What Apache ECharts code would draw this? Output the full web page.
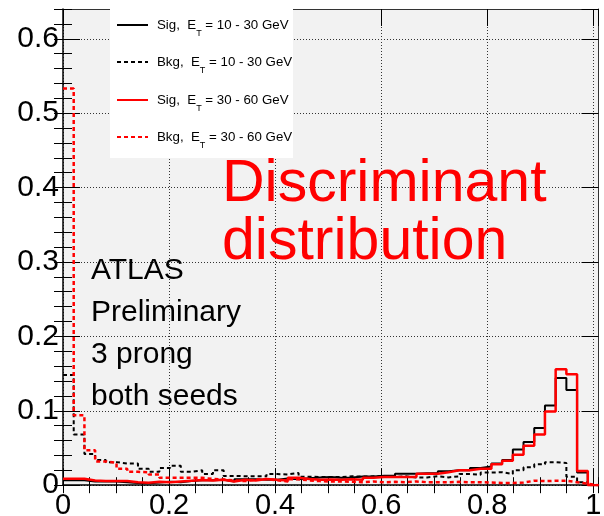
<!DOCTYPE html>
<html>
<head>
<meta charset="utf-8">
<script src="https://cdn.jsdelivr.net/npm/echarts@6/dist/echarts.min.js"></script>
<style>
  html, body { margin: 0; padding: 0; background: #fff; }
  #chart { width: 604px; height: 516px; }
</style>
</head>
<body>
<div id="chart"></div>
<script>
// Histogram binning: 50 equal bins over the discriminant range
const binCount = 50;
const xMin = 0;
const xMax = 1.01;

// Bin contents (normalised) for each sample
const sig1030 = [
  0.0065, 0.0065, 0.005, 0.005, 0.005, 0.004, 0.003, 0.0025, 0.0035, 0.0045,
  0.004, 0.0055, 0.0065, 0.0065, 0.0073, 0.005, 0.008, 0.008, 0.0073, 0.0073,
  0.009, 0.008, 0.0095, 0.0105, 0.011, 0.010, 0.0105, 0.0116, 0.0116, 0.0126,
  0.0126, 0.0153, 0.0153, 0.016, 0.016, 0.0187, 0.020, 0.020, 0.023, 0.025,
  0.029, 0.034, 0.048, 0.058, 0.077, 0.107, 0.144, 0.128, 0.017, 0
];
const bkg1030 = [
  0.148, 0.068, 0.042, 0.034, 0.031, 0.029, 0.029, 0.022, 0.018, 0.023,
  0.026, 0.018, 0.020, 0.015, 0.020, 0.0125, 0.012, 0.012, 0.012, 0.015,
  0.0145, 0.0165, 0.0115, 0.011, 0.011, 0.011, 0.012, 0.0115, 0.012, 0.0125,
  0.011, 0.012, 0.0105, 0.0105, 0.012, 0.0105, 0.012, 0.015, 0.014, 0.017,
  0.0175, 0.015, 0.020, 0.024, 0.028, 0.031, 0.030, 0.0115, 0.004, 0
];
const sig3060 = [
  0.0086, 0.0086, 0.0063, 0.0055, 0.0055, 0.0055, 0.004, 0.0032, 0.0045, 0.004,
  0.005, 0.006, 0.007, 0.0064, 0.0073, 0.005, 0.0073, 0.0064, 0.0083, 0.0073,
  0.0064, 0.010, 0.0083, 0.0073, 0.0075, 0.0073, 0.008, 0.0073, 0.010, 0.011,
  0.011, 0.011, 0.011, 0.0153, 0.0153, 0.0175, 0.020, 0.020, 0.022, 0.022,
  0.028, 0.033, 0.041, 0.053, 0.068, 0.099, 0.156, 0.149, 0.019, 0
];
const bkg3060 = [
  0.533, 0.094, 0.047, 0.032, 0.030, 0.022, 0.018, 0.0175, 0.0145, 0.010,
  0.010, 0.010, 0.010, 0.0083, 0.0075, 0.0065, 0.0055, 0.0075, 0.0083, 0.0065,
  0.005, 0.008, 0.0065, 0.0055, 0.005, 0.005, 0.0045, 0.004, 0.005, 0.004,
  0.0045, 0.004, 0.005, 0.004, 0.004, 0.004, 0.0045, 0.004, 0.004, 0.0035,
  0.003, 0.003, 0.0035, 0.006, 0.0055, 0.006, 0.006, 0.004, 0.002, 0
];

// Legend entries and annotation text
const legendLabels = [
  ['Sig,  E', 'T', ' = 10 - 30 GeV'],
  ['Bkg,  E', 'T', ' = 10 - 30 GeV'],
  ['Sig,  E', 'T', ' = 30 - 60 GeV'],
  ['Bkg,  E', 'T', ' = 30 - 60 GeV']
];
const atlasLines = ['ATLAS', 'Preliminary', '3 prong', 'both seeds'];
const titleLines = ['Discriminant', 'distribution'];

const FONT = 'Liberation Sans, Arial, Helvetica, sans-serif';
const RED = '#ff0000';
const BLACK = '#000000';

// Turn bin contents into step-outline points (left edge of each bin + final right edge)
function histOutline(values) {
  const w = (xMax - xMin) / binCount;
  const pts = values.map((v, i) => [xMin + i * w, v]);
  pts.push([xMin + values.length * w, values[values.length - 1]]);
  return pts;
}

function niceLabel(step) {
  return function (v) {
    const r = v / step;
    if (Math.abs(r - Math.round(r)) > 1e-6) return '';
    return String(Math.round(v * 100) / 100);
  };
}

const chart = echarts.init(document.getElementById('chart'), null, { renderer: 'canvas' });

const gridLine = { show: true, lineStyle: { type: [1, 2], color: '#333', width: 1 } };

function majorX(position, labelled) {
  return {
    type: 'value', min: xMin, max: xMax, interval: 0.2, position: position,
    axisLine: { show: true, onZero: false, lineStyle: { color: labelled ? BLACK : '#333', width: labelled ? 1.5 : 1 } },
    axisTick: { show: true, inside: true, length: 17, lineStyle: { color: BLACK, width: 1 } },
    axisLabel: labelled ? {
      show: true, fontSize: 29, color: BLACK, fontFamily: FONT, margin: 6,
      showMaxLabel: false, formatter: niceLabel(0.2)
    } : { show: false },
    splitLine: labelled ? gridLine : { show: false }
  };
}
function minorX(position) {
  return {
    type: 'value', min: xMin, max: xMax, interval: 0.05, position: position,
    axisLine: { show: false },
    axisTick: { show: true, inside: true, length: 8, lineStyle: { color: BLACK, width: 1 } },
    axisLabel: { show: false }, splitLine: { show: false }
  };
}
function majorY(position, labelled) {
  return {
    type: 'value', min: 0, max: 0.64, interval: 0.1, position: position,
    axisLine: { show: true, onZero: false, lineStyle: { color: labelled ? BLACK : '#333', width: labelled ? 1.5 : 1 } },
    axisTick: { show: true, inside: true, length: 17, lineStyle: { color: BLACK, width: 1 } },
    axisLabel: labelled ? {
      show: true, fontSize: 30, color: BLACK, fontFamily: FONT, margin: 4,
      showMaxLabel: false, formatter: niceLabel(0.1)
    } : { show: false },
    splitLine: labelled ? gridLine : { show: false }
  };
}
function minorY(position) {
  return {
    type: 'value', min: 0, max: 0.64, interval: 0.02, position: position,
    axisLine: { show: false },
    axisTick: { show: true, inside: true, length: 9, lineStyle: { color: BLACK, width: 1 } },
    axisLabel: { show: false }, splitLine: { show: false }
  };
}

function histSeries(name, values, color, dashed, width, z) {
  return {
    name: name, type: 'line', step: 'end', xAxisIndex: 0, yAxisIndex: 0,
    data: histOutline(values), symbol: 'none', animation: false, z: z,
    lineStyle: { color: color, width: width, type: dashed ? [4, 3] : 'solid' }
  };
}

// Legend box drawn as graphics (line sample + label with subscript)
const legendRows = [
  { color: BLACK, dashed: false, y: 25 },
  { color: BLACK, dashed: true, y: 62 },
  { color: RED, dashed: false, y: 100 },
  { color: RED, dashed: true, y: 137 }
];
const graphics = [
  { type: 'rect', shape: { x: 110, y: 9, width: 183, height: 149 }, style: { fill: '#ffffff' }, z: 100 }
];
legendRows.forEach((row, i) => {
  graphics.push({
    type: 'line', z: 101,
    shape: { x1: 117, y1: row.y, x2: 148, y2: row.y },
    style: { stroke: row.color, lineWidth: 2, lineDash: row.dashed ? [4, 3] : null }
  });
  const parts = legendLabels[i];
  graphics.push({
    type: 'text', z: 101, x: 157, y: row.y - 13,
    style: {
      text: '{a|' + parts[0] + '}{s|' + parts[1] + '}{a|' + parts[2] + '}',
      fill: BLACK,
      rich: {
        a: { fontSize: 13.3, lineHeight: 26, fontFamily: FONT, fill: BLACK, verticalAlign: 'middle' },
        s: { fontSize: 9, lineHeight: 9, fontFamily: FONT, fill: BLACK, verticalAlign: 'bottom' }
      }
    }
  });
});
const atlasY = [271, 313, 355, 397];
atlasLines.forEach((t, i) => {
  graphics.push({
    type: 'text', z: 102, x: 91, y: atlasY[i],
    style: { text: t, fontSize: 30, fontFamily: FONT, fill: BLACK, verticalAlign: 'middle', align: 'left' }
  });
});
const titleY = [185, 243];
titleLines.forEach((t, i) => {
  graphics.push({
    type: 'text', z: 102, x: 222, y: titleY[i],
    style: { text: t, fontSize: 59, fontFamily: FONT, fill: RED, verticalAlign: 'middle', align: 'left' }
  });
});

chart.setOption({
  animation: false,
  backgroundColor: '#ffffff',
  grid: {
    left: 63, right: 5.5, top: 9, bottom: 30.8,
    outerBoundsMode: 'none', containLabel: false,
    show: true, backgroundColor: '#f2f2f2', borderWidth: 0
  },
  xAxis: [majorX('bottom', true), minorX('bottom'), majorX('top', false), minorX('top')],
  yAxis: [majorY('left', true), minorY('left'), majorY('right', false), minorY('right')],
  series: [
    histSeries('Sig 10-30', sig1030, BLACK, false, 2, 3),
    histSeries('Bkg 10-30', bkg1030, BLACK, true, 2, 3),
    histSeries('Sig 30-60', sig3060, RED, false, 2.5, 4),
    histSeries('Bkg 30-60', bkg3060, RED, true, 2.5, 4)
  ],
  graphic: graphics
});
</script>
</body>
</html>
